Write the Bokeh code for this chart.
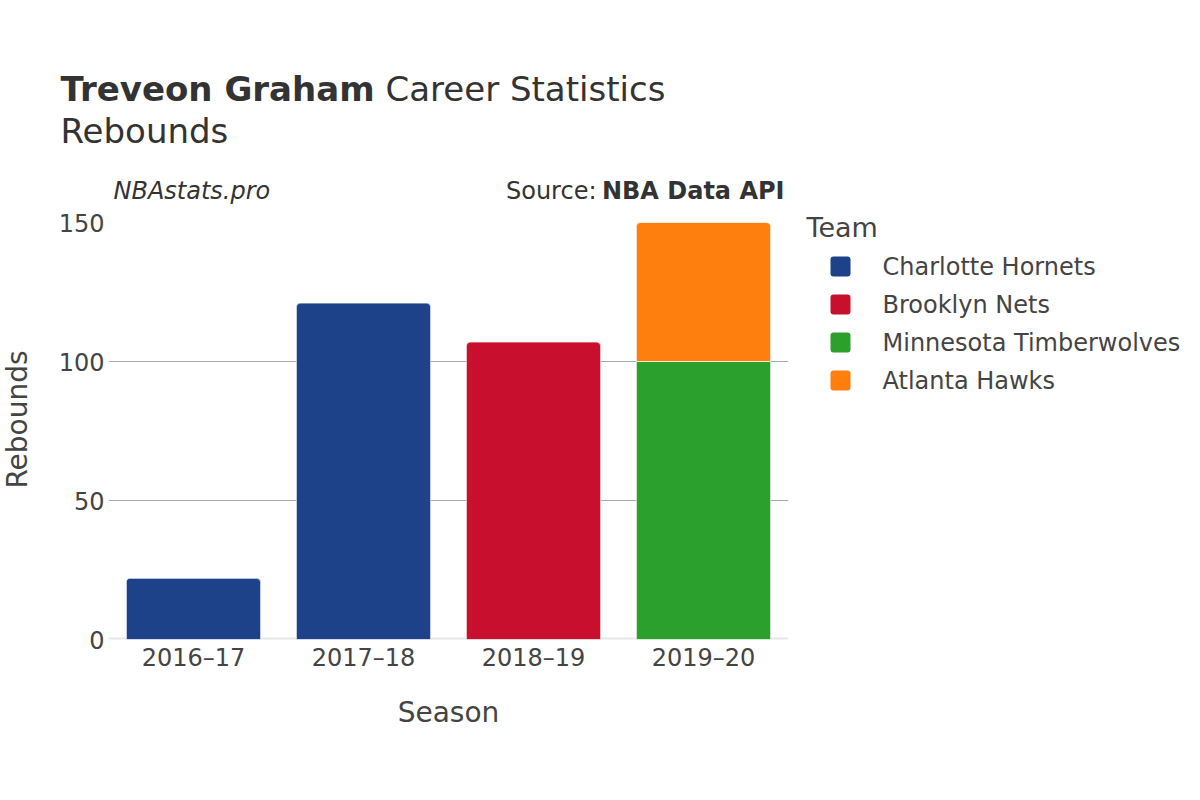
import math
from bokeh.plotting import figure
from bokeh.layouts import column, row
from bokeh.models import Span, FixedTicker, FactorRange, Range1d, ColumnDataSource
from bokeh.core.properties import value
from bokeh.embed import file_html
from bokeh.resources import INLINE

# ---- data ----
seasons = ["2016–17", "2017–18", "2018–19", "2019–20"]
teams = ["Charlotte Hornets", "Brooklyn Nets", "Minnesota Timberwolves", "Atlanta Hawks"]
team_colors = ["#1d428a", "#c8102e", "#2ca02c", "#ff7f0e"]
charlotte = [22, 121, 0, 0]
brooklyn = [0, 0, 107, 0]
minnesota = [0, 0, 0, 100]
atlanta = [0, 0, 0, 50]
y_ticks = [0, 50, 100, 150]

player_name = "Treveon Graham"
title_rest = "Career Statistics"
subtitle = "Rebounds"
brand = "NBAstats.pro"
source_label = "Source:"
source_name = "NBA Data API"
x_title = "Season"
y_title = "Rebounds"
legend_title = "Team"

series = [charlotte, brooklyn, minnesota, atlanta]

# ---- layout geometry (page pixels) ----
PAGE_W, PAGE_H = 1184, 784
STRIP_W = 36                 # left strip holding the y-axis title
MAIN_R = 800                 # right edge of chart figure
HEAD_H = 207                 # header strip height
FL, FT, FR, FB = 108, 222, 788, 639   # plot frame edges (page coords)
BODY_H = PAGE_H - HEAD_H
FONT = "DejaVu Sans"
TXT = "#444444"
DARK = "#333333"


def text_at(fig, x, y, s, size, style="normal", align="left", color=DARK, angle=0.0):
    # y is the vertical centre of the text
    fig.text(x=[x], y=[y], text=[s], text_font=value(FONT),
             text_font_size=value(f"{size}px"), text_font_style=style,
             text_align=align, text_baseline="middle", text_color=color,
             angle=angle)


def base(y, size):
    # convert an alphabetic baseline position into a centre position
    return y - 0.365 * size


def blank_fig(w, h, x0, y0):
    f = figure(width=w, height=h, x_range=Range1d(x0, x0 + w), y_range=Range1d(y0 + h, y0),
               x_axis_type=None, y_axis_type=None, min_border=0,
               output_backend="svg", toolbar_location=None)
    f.outline_line_color = None
    f.background_fill_color = "white"
    f.border_fill_color = "white"
    return f


# ---- header ----
head = blank_fig(PAGE_W, HEAD_H, 0, 0)
text_at(head, 60, base(101, 34), player_name, 34, style="bold")
text_at(head, 385, base(101, 34), title_rest, 34)
text_at(head, 60, base(143, 34), subtitle, 34)
text_at(head, 113, base(199, 24), brand, 24, style="italic")
text_at(head, 784, base(199, 24), source_name, 24, style="bold", align="right")
text_at(head, 596, base(199, 24), source_label, 24, align="right")

# ---- left strip: y-axis title ----
strip = blank_fig(STRIP_W, BODY_H, 0, HEAD_H)
text_at(strip, 17, 419, y_title, 28, align="center", color=TXT, angle=math.pi / 2)

# ---- main chart ----
p = figure(width=MAIN_R - STRIP_W, height=BODY_H,
           x_range=FactorRange(*seasons, range_padding=0),
           y_range=Range1d(0, 150),
           output_backend="svg", toolbar_location=None,
           min_border_left=FL - STRIP_W, min_border_right=MAIN_R - FR,
           min_border_top=FT - HEAD_H, min_border_bottom=BODY_H - (FB - HEAD_H))
p.outline_line_color = None
p.background_fill_color = "white"

p.add_layout(Span(location=0, dimension="width", line_color="#e8e8e8",
                  line_width=4, level="underlay"))

tops = [sum(s[i] for s in series) for i in range(len(seasons))]
bottom = [0] * len(seasons)
for t, vals, col in zip(teams, series, team_colors):
    groups = {True: dict(x=[], b=[], t=[]), False: dict(x=[], b=[], t=[])}
    for i, v in enumerate(vals):
        if v <= 0:
            continue
        top = bottom[i] + v
        is_top = abs(top - tops[i]) < 1e-9
        groups[is_top]["x"].append(seasons[i])
        groups[is_top]["b"].append(bottom[i])
        groups[is_top]["t"].append(top)
        bottom[i] = top
    for is_top, g in groups.items():
        if not g["x"]:
            continue
        p.vbar(x="x", bottom="b", top="t", width=0.79,
               source=ColumnDataSource(g), fill_color=col,
               line_color="white", line_width=0.7,
               border_radius=(4, 4, 0, 0) if is_top else 0)

p.xaxis.axis_line_color = None
p.yaxis.axis_line_color = None
p.xaxis.major_tick_line_color = None
p.yaxis.major_tick_line_color = None
p.xaxis.minor_tick_line_color = None
p.yaxis.minor_tick_line_color = None
p.yaxis.ticker = FixedTicker(ticks=y_ticks)
for ax in (p.xaxis, p.yaxis):
    ax.major_label_text_font = FONT
    ax.major_label_text_font_size = "24px"
    ax.major_label_text_color = TXT
p.xaxis.axis_label = x_title
p.xaxis.axis_label_text_font = FONT
p.xaxis.axis_label_text_font_size = "28px"
p.xaxis.axis_label_text_font_style = "normal"
p.xaxis.axis_label_text_color = TXT
p.xaxis.major_label_standoff = -2
p.yaxis.major_label_standoff = -2
p.xaxis.axis_label_standoff = 21
p.xgrid.grid_line_color = None
p.ygrid.grid_line_color = "#a8a8a8"
p.ygrid.grid_line_width = 1

# ---- legend strip ----
leg = blank_fig(PAGE_W - MAIN_R, BODY_H, MAIN_R, HEAD_H)
text_at(leg, 806, 227, legend_title, 27, color=TXT)
row_y = [266 + 38 * i for i in range(len(teams))]
leg.quad(left=[830] * len(teams), right=[850] * len(teams),
         top=[y - 10 for y in row_y], bottom=[y + 10 for y in row_y],
         fill_color=team_colors, line_color=None, border_radius=3)
leg.text(x=[882] * len(teams), y=row_y, text=teams, text_font=value(FONT),
         text_font_size=value("24px"), text_align="left", text_baseline="middle",
         text_color=TXT)

layout = column(head, row(strip, column(p, spacing=0), leg, spacing=0), spacing=0)
open("out.html", "w").write(file_html(layout, INLINE))
